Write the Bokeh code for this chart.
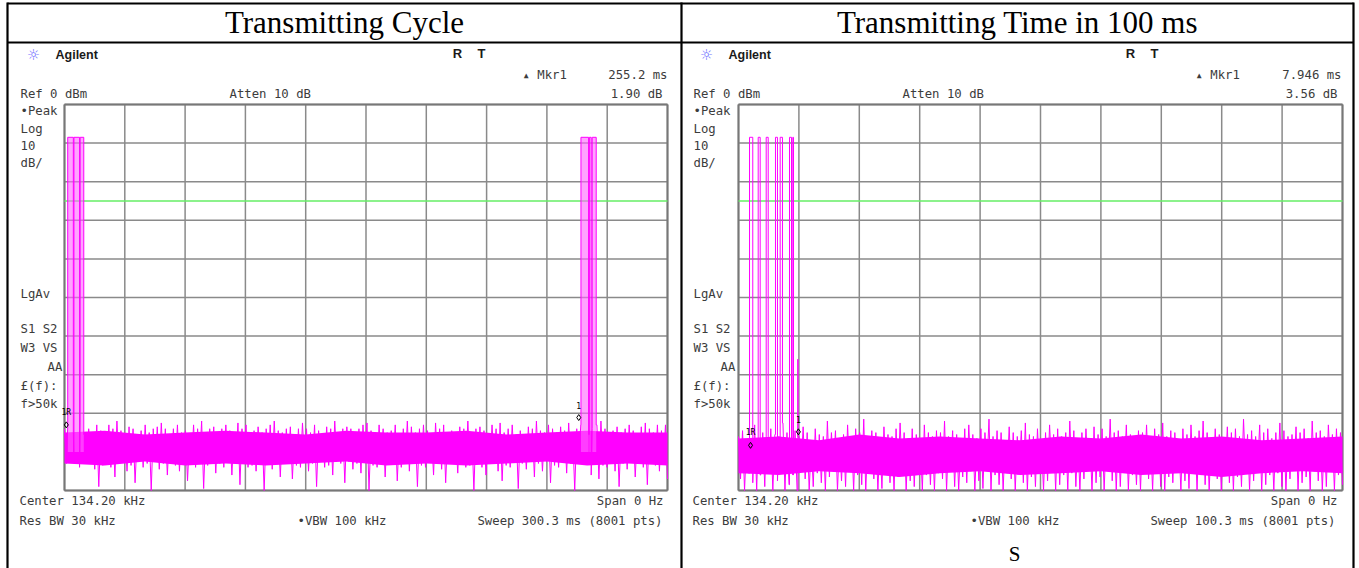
import numpy as np
from bokeh.plotting import figure
from bokeh.models import Range1d, ColumnDataSource
from bokeh.embed import file_html
from bokeh.resources import INLINE
from bokeh.core.properties import value

# ---------------- chart values ----------------
titles = ["Transmitting Cycle", "Transmitting Time in 100 ms"]
sweep_ms = [300.3, 100.3]
ref_level_dbm = 0.0
bottom_dbm = -100.0
db_per_div = 10.0
display_line_dbm = -25.0
burst_top_dbm = -8.5

# pulse on-intervals (ms)
left_pulse_start = [1.6, 4.7, 7.8, 257.2, 261.4, 262.8]
left_pulse_end = [4.4, 7.5, 9.6, 261.0, 262.3, 264.8]
right_pulse_start = [1.83, 3.27, 4.60, 6.14, 6.92, 8.47, 9.02]
right_pulse_end = [2.37, 3.60, 4.93, 6.47, 7.30, 8.80, 9.13]
right_spike_ms = [9.85]
right_spike_dbm = [-66.0]

# markers (reference "1R" and delta "1")
marker_labels = ["1R", "1"]
left_marker_ms = [0.9, 256.1]
left_marker_dbm = [-83.0, -81.1]
right_marker_ms = [2.0, 9.95]
right_marker_dbm = [-88.3, -84.8]

# noise floor, upper spikes / lower spikes (dBm)
left_noise_hi = [
    -84.0, -83.5, -85.0, -84.0, -82.5, -85.5, -84.0, -86.0, -83.0, -84.5,
    -85.0, -83.0, -84.0, -82.0, -84.5, -85.5, -83.5, -84.0, -86.0, -84.5,
    -83.0, -85.0, -84.0, -83.5, -82.5, -84.0, -85.5, -84.0, -83.0, -85.0,
    -84.5, -86.0, -83.0, -84.0, -82.0, -85.0, -84.0, -83.5, -85.5, -84.0,
    -83.0, -84.5, -85.0, -82.5, -84.0, -83.0, -86.0, -84.5, -83.5, -85.0,
    -84.0, -83.0, -82.0, -84.5, -85.0, -84.0, -83.5, -85.5, -84.0, -82.5,
    -84.0, -85.0, -83.0, -84.5, -86.0, -83.5, -84.0, -82.0, -85.0, -84.0,
    -83.5, -84.0, -85.5, -84.0, -83.0, -82.5, -84.5, -85.0, -83.0, -84.0,
    -85.0, -84.5, -83.0, -86.0, -84.0, -82.0, -83.5, -85.0, -84.0, -83.0,
    -84.5, -85.5, -82.5, -84.0, -83.0, -85.0, -84.5, -86.0, -83.5, -84.0,
    -82.0, -85.0, -84.0, -83.5, -84.5, -85.5, -83.0, -84.0, -82.5, -85.0,
    -84.0, -83.0, -85.5, -84.5, -86.0, -83.5, -84.0, -82.0, -84.5, -85.0,
    -83.0, -84.0, -85.0, -83.5, -84.5, -82.5, -85.0, -84.0, -83.0, -84.5,
    -85.5, -84.0, -83.0, -82.0, -84.0, -85.0, -84.5, -83.5, -85.0, -84.0,
    -83.0, -84.5, -86.0, -83.5, -82.5, -84.0, -85.0, -83.0, -84.5, -83.0]
left_noise_lo = [
    -93.0, -95.5, -92.5, -94.0, -97.0, -93.0, -92.0, -94.5, -99.0, -93.5,
    -92.5, -94.0, -96.5, -93.0, -92.0, -95.0, -93.5, -98.0, -92.5, -94.0,
    -93.0, -100.0, -92.5, -94.5, -93.0, -96.0, -92.0, -93.5, -95.0, -92.5,
    -97.5, -93.0, -94.0, -92.5, -99.5, -93.5, -92.0, -95.5, -93.0, -94.0,
    -92.5, -96.0, -93.0, -98.5, -92.5, -94.0, -93.5, -95.0, -92.0, -100.0,
    -93.0, -94.5, -92.5, -96.5, -93.0, -92.0, -97.0, -93.5, -94.0, -92.5,
    -95.0, -93.0, -99.0, -92.5, -94.0, -93.5, -96.0, -92.0, -93.0, -98.0,
    -92.5, -94.5, -93.0, -95.5, -92.0, -100.0, -93.5, -94.0, -92.5, -96.5,
    -93.0, -92.0, -97.5, -94.0, -93.0, -95.0, -92.5, -99.0, -93.5, -94.0,
    -92.0, -96.0, -93.0, -94.5, -98.0, -92.5, -93.0, -95.5, -92.0, -94.0,
    -93.5, -100.0, -92.5, -94.0, -96.0, -93.0, -92.0, -95.0, -97.5, -93.5,
    -94.0, -92.5, -99.5, -93.0, -94.5, -92.0, -96.5, -93.0, -95.0, -92.5,
    -98.0, -93.5, -94.0, -92.0, -95.5, -93.0, -100.0, -92.5, -94.0, -93.0,
    -96.0, -92.5, -97.0, -93.5, -94.0, -92.0, -95.0, -99.0, -93.0, -94.5,
    -92.5, -96.5, -93.0, -94.0, -98.5, -92.0, -93.5, -95.0, -92.5, -97.0]
right_noise_hi = [
    -86.0, -84.5, -87.0, -85.0, -83.0, -86.5, -85.0, -88.0, -84.0, -85.5,
    -86.0, -82.5, -85.0, -87.0, -84.5, -86.0, -83.5, -85.0, -87.5, -84.0,
    -85.5, -86.0, -82.0, -85.0, -84.5, -87.0, -85.5, -83.0, -86.0, -84.0,
    -85.0, -81.5, -86.5, -84.5, -85.0, -87.0, -83.5, -85.5, -86.0, -84.0,
    -82.5, -85.0, -86.5, -84.0, -85.5, -87.5, -83.0, -85.0, -86.0, -84.5,
    -85.0, -82.0, -86.0, -84.5, -85.5, -87.0, -84.0, -83.0, -85.5, -86.5,
    -84.0, -85.0, -81.5, -86.0, -84.5, -85.0, -87.0, -83.5, -85.0, -86.0,
    -84.5, -82.5, -85.5, -86.0, -84.0, -87.5, -85.0, -83.0, -85.5, -84.0,
    -86.0, -85.0, -82.0, -84.5, -86.5, -85.0, -84.0, -87.0, -83.5, -85.5,
    -84.0, -86.0, -81.5, -85.0, -84.5, -86.0, -83.0, -85.5, -87.0, -84.5,
    -85.0, -83.0, -86.5, -84.0, -85.5, -82.5, -86.0, -84.5, -85.0, -87.5,
    -84.0, -85.5, -83.0, -86.0, -84.5, -82.0, -85.0, -86.5, -84.0, -85.5,
    -87.0, -83.5, -85.0, -84.0, -86.0, -81.5, -85.5, -84.5, -86.0, -83.0,
    -85.0, -84.0, -86.5, -85.0, -82.5, -84.5, -86.0, -85.5, -83.5, -85.0,
    -84.0, -86.5, -82.0, -85.0, -84.5, -86.0, -83.0, -85.5, -84.0, -85.0]
right_noise_lo = [
    -97.0, -100.0, -95.5, -98.0, -100.0, -96.0, -99.0, -94.5, -100.0, -97.5,
    -95.0, -100.0, -98.5, -96.0, -100.0, -94.5, -97.0, -100.0, -99.0, -95.5,
    -98.0, -100.0, -96.5, -94.0, -100.0, -97.5, -99.0, -95.0, -100.0, -96.0,
    -98.5, -100.0, -95.0, -97.0, -100.0, -99.5, -94.5, -98.0, -100.0, -96.5,
    -95.0, -100.0, -97.5, -99.0, -94.0, -100.0, -96.0, -98.5, -100.0, -95.5,
    -97.0, -100.0, -94.5, -99.0, -100.0, -96.5, -98.0, -95.0, -100.0, -97.5,
    -99.5, -94.0, -100.0, -96.0, -98.5, -100.0, -95.5, -97.0, -100.0, -94.5,
    -98.0, -100.0, -96.5, -99.0, -95.0, -100.0, -97.5, -94.0, -100.0, -98.5,
    -96.0, -100.0, -95.5, -99.0, -100.0, -97.0, -94.5, -100.0, -98.0, -96.5,
    -100.0, -95.0, -97.5, -100.0, -99.0, -94.0, -100.0, -96.0, -98.5, -100.0,
    -95.5, -97.0, -100.0, -94.5, -99.0, -100.0, -96.5, -98.0, -95.0, -100.0,
    -97.5, -99.5, -94.0, -100.0, -96.0, -98.5, -100.0, -95.5, -97.0, -100.0,
    -94.5, -98.0, -100.0, -96.5, -99.0, -95.0, -100.0, -97.5, -94.0, -100.0,
    -98.5, -96.0, -100.0, -95.5, -99.0, -100.0, -97.0, -94.5, -100.0, -98.0,
    -96.5, -100.0, -95.0, -97.5, -100.0, -99.0, -94.0, -100.0, -96.0, -98.5]
# dense core of the noise band
left_core_top = [-85, -84.5, -85.5, -85, -84.5, -85, -85.5, -84.5, -85, -85, -84.5, -85.5, -85, -84.5, -85, -85]
left_core_bot = [-93, -93.5, -92.5, -93.5, -93, -93.5, -93, -92.5, -93.5, -93, -93.5, -93, -92.5, -93.5, -93, -93.5]
right_core_top = [-86.5, -86, -87, -85.5, -86.5, -86, -86.5, -87, -86, -86.5, -85.5, -86.5, -86, -87, -86.5, -86]
right_core_bot = [-95.5, -96, -95, -95.5, -96.5, -95.5, -95, -96, -95.5, -95, -96, -95.5, -96.5, -95.5, -95, -95.5]

# ---------------- page geometry (reference pixel frame, 1:1) ----------------
W, H = 1359, 568
GRID_X = [(64, 667), (738, 1342)]
GRID_Y = (104, 490)

p = figure(width=W, height=H, x_range=Range1d(0, W), y_range=Range1d(H, 0),
           output_backend="svg", toolbar_location=None, min_border=0,
           x_axis_location=None, y_axis_location=None)
p.grid.visible = False
p.outline_line_color = None
p.background_fill_color = "white"
p.border_fill_color = "white"

db_px = (ref_level_dbm - bottom_dbm) / (GRID_Y[1] - GRID_Y[0])
p.extra_y_ranges = {"dB": Range1d(bottom_dbm - (H - GRID_Y[1]) * db_px,
                                  ref_level_dbm + GRID_Y[0] * db_px)}
names = ["L", "R"]
for nm, (gx0, gx1), sw in zip(names, GRID_X, sweep_ms):
    ms_px = sw / (gx1 - gx0)
    s = -gx0 * ms_px
    p.extra_x_ranges[nm] = Range1d(s, s + W * ms_px)

# ---------------- table frame ----------------
p.segment(x0=[7, 7, 1353, 681, 7], y0=[3, 2, 2, 2, 42],
          x1=[1353, 7, 1353, 681, 1353], y1=[3, 568, 568, 568, 42],
          line_color="black", line_width=2.2)
p.text(x=[344, 1017], y=[22, 22], text=titles, text_font=value("Liberation Serif"),
       text_font_size="31px", text_align="center", text_baseline="middle", text_color="black")


def build_trace(sw, hi, lo, starts, ends, top, spike_t=(), spike_v=()):
    t = np.linspace(0.0, sw, 2 * len(hi))
    v = np.empty(2 * len(hi))
    v[0::2] = hi
    v[1::2] = lo
    inside = np.zeros(len(t), bool)
    for s, e in zip(starts, ends):
        inside |= (t >= s) & (t <= e)
    pts = [(a, b, 0) for a, b in zip(t[~inside], v[~inside])]
    for s, e in zip(starts, ends):
        i = int(np.argmin(np.abs(t - s)))
        j = int(np.argmin(np.abs(t - e)))
        pts += [(s, v[i], 0), (s, top, 1), (e, top, 2), (e, v[j], 3)]
    for ts, vs in zip(spike_t, spike_v):
        k = int(np.argmin(np.abs(t - ts)))
        pts += [(ts, v[k], 0), (ts, vs, 1), (ts, v[k + 1], 2)]
    pts.sort(key=lambda q: (q[0], q[2]))
    return [q[0] for q in pts], [q[1] for q in pts]


panels = [
    dict(nm="L", sw=sweep_ms[0], hi=left_noise_hi, lo=left_noise_lo, st=left_pulse_start,
         en=left_pulse_end, ct=left_core_top, cb=left_core_bot, mt=left_marker_ms,
         mv=left_marker_dbm, spt=(), spv=(), fill=True),
    dict(nm="R", sw=sweep_ms[1], hi=right_noise_hi, lo=right_noise_lo, st=right_pulse_start,
         en=right_pulse_end, ct=right_core_top, cb=right_core_bot, mt=right_marker_ms,
         mv=right_marker_dbm, spt=right_spike_ms, spv=right_spike_dbm, fill=False),
]

for pn in panels:
    kw = dict(x_range_name=pn["nm"], y_range_name="dB")
    sw = pn["sw"]
    divs = np.arange(0, 11)
    xs = divs * sw / 10.0
    ys = bottom_dbm + divs * db_per_div
    # grid
    p.segment(x0=xs, y0=[bottom_dbm] * 11, x1=xs, y1=[ref_level_dbm] * 11,
              line_color="#8a8a8a", line_width=1.5, **kw)
    p.segment(x0=[0] * 11, y0=ys, x1=[sw] * 11, y1=ys,
              line_color="#8a8a8a", line_width=1.5, **kw)
    p.segment(x0=[0, sw], y0=[bottom_dbm] * 2, x1=[0, sw], y1=[ref_level_dbm] * 2,
              line_color="#777777", line_width=2, **kw)
    p.segment(x0=[0, 0], y0=[bottom_dbm, ref_level_dbm], x1=[sw, sw],
              y1=[bottom_dbm, ref_level_dbm], line_color="#777777", line_width=2, **kw)
    # display line
    p.segment(x0=[0], y0=[display_line_dbm], x1=[sw], y1=[display_line_dbm],
              line_color="#66ee66", line_width=1.5, **kw)
    # noise core
    tc = np.linspace(0.0, sw, len(pn["ct"]))
    p.varea(x=tc, y1=pn["ct"], y2=pn["cb"], fill_color="#ff00ff", **kw)
    if pn["fill"]:
        p.quad(left=pn["st"], right=pn["en"], bottom=[-90] * len(pn["st"]),
               top=[burst_top_dbm] * len(pn["st"]), fill_color="#ff66ff", fill_alpha=0.6,
               line_color=None, **kw)
    tx, ty = build_trace(sw, pn["hi"], pn["lo"], pn["st"], pn["en"], burst_top_dbm,
                         pn["spt"], pn["spv"])
    p.line(tx, ty, line_color="#ff00ff", line_width=1, **kw)
    # markers
    p.scatter(pn["mt"], pn["mv"], marker="diamond", size=6, fill_color=None,
              line_color="black", line_width=1, **kw)
    p.text(x=pn["mt"], y=[v + 3.2 for v in pn["mv"]], text=marker_labels,
           text_font=value("DejaVu Sans Mono"), text_font_size="8px", text_color="black",
           text_align="center", text_baseline="middle", **kw)

# ---------------- instrument annotations ----------------
mono = value("DejaVu Sans Mono")
tcol = "#3c3c3c"
left_items = ["Ref 0 dBm", "•Peak", "Log", "10", "dB/", "LgAv", "S1  S2", "W3  VS", "AA",
              "£(f):", "f>50k", "Atten 10 dB", "▴ Mkr1", "Center 134.20 kHz", "Res BW 30 kHz",
              "•VBW 100 kHz"]
left_x = [20, 20, 20, 20, 20, 20, 20, 20, 47, 20, 20, 229, 522, 19, 19, 297]
left_y = [93, 110, 128, 145, 162, 293, 328, 347, 366, 385, 403, 93, 74, 500, 520, 520]
for dx in (0, 673):
    p.text(x=[x + dx for x in left_x], y=left_y, text=left_items, text_font=mono,
           text_font_size="12.3px", text_color=tcol, text_align="left", text_baseline="middle")
    p.text(x=[55 + dx], y=[54], text=["Agilent"], text_font=value("Liberation Sans"),
           text_font_style="bold", text_font_size="12.5px", text_color="#1a1a1a",
           text_align="left", text_baseline="middle")
    p.text(x=[33 + dx], y=[54], text=["☼"], text_font=value("DejaVu Sans"),
           text_font_size="15px", text_color="#6f6fff", text_align="center", text_baseline="middle")
    p.text(x=[457 + dx, 481 + dx], y=[53, 53], text=["R", "T"], text_font=value("Liberation Sans"),
           text_font_style="bold", text_font_size="13px", text_color="#1a1a1a",
           text_align="center", text_baseline="middle")

right_items = ["255.2 ms", "1.90 dB", "Span 0 Hz", "Sweep 300.3 ms (8001 pts)",
               "7.946 ms", "3.56 dB", "Span 0 Hz", "Sweep 100.3 ms (8001 pts)"]
right_x = [667, 662, 663, 662, 1341, 1337, 1337, 1335]
right_y = [74, 93, 500, 520, 74, 93, 500, 520]
p.text(x=right_x, y=right_y, text=right_items, text_font=mono, text_font_size="12.3px",
       text_color=tcol, text_align="right", text_baseline="middle")
p.text(x=[1014], y=[553], text=["S"], text_font=value("Liberation Serif"), text_font_size="21px",
       text_color="black", text_align="center", text_baseline="middle")

open("out.html", "w").write(file_html(p, INLINE))
